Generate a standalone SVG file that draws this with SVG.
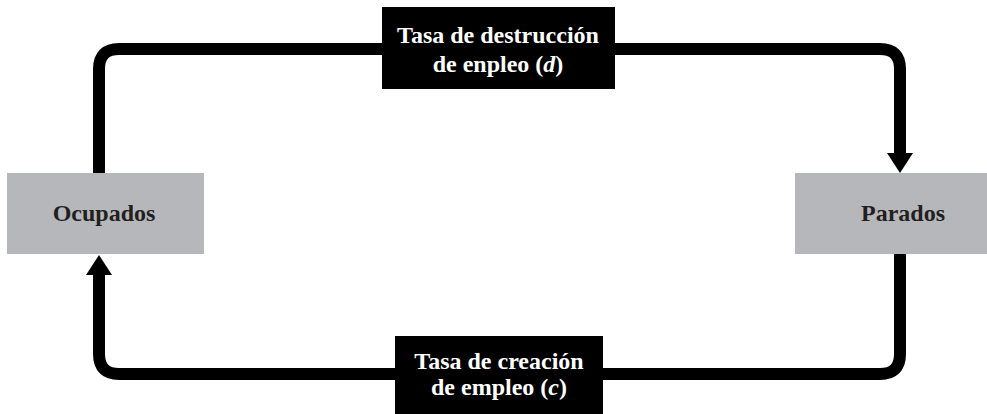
<svg xmlns="http://www.w3.org/2000/svg" width="987" height="414" viewBox="0 0 987 414">
<style>
.lbl{font-family:"Liberation Serif","Times New Roman",serif;font-weight:bold;font-size:24px;text-anchor:middle}
.box{fill:#b5b7ba}
.rate{fill:#000}
.wt{fill:#fff}
.dk{fill:#231f20}
.ln{fill:none;stroke:#000;stroke-width:12}
.head{fill:#000}
</style>
<g id="connectors">
<path class="ln" d="M382,49 H119 Q99,49 99,69 V173"/>
<path class="ln" d="M615,49 H880 Q900,49 900,69 V156"/>
<polygon class="head" points="887,153 913,153 900,173"/>
<path class="ln" d="M900,253 V354 Q900,374 880,374 H603"/>
<path class="ln" d="M395,374 H119 Q99,374 99,354 V272"/>
<polygon class="head" points="86,275 112,275 99,255"/>
</g>
<g id="ocupados">
<rect class="box" x="7" y="173" width="197" height="81"/>
<text class="lbl dk" x="104" y="221">Ocupados</text>
</g>
<g id="parados">
<rect class="box" x="795" y="173" width="192" height="81"/>
<text class="lbl dk" x="903" y="221">Parados</text>
</g>
<g id="destruccion">
<rect class="rate" x="382" y="7" width="233" height="82"/>
<text class="lbl wt" x="498" y="43">Tasa de destrucción</text>
<text class="lbl wt" x="498" y="72">de enpleo (<tspan font-style="italic">d</tspan>)</text>
</g>
<g id="creacion">
<rect class="rate" x="395" y="336" width="208" height="78"/>
<text class="lbl wt" x="499" y="369">Tasa de creación</text>
<text class="lbl wt" x="499" y="395">de empleo (<tspan font-style="italic">c</tspan>)</text>
</g>
</svg>
